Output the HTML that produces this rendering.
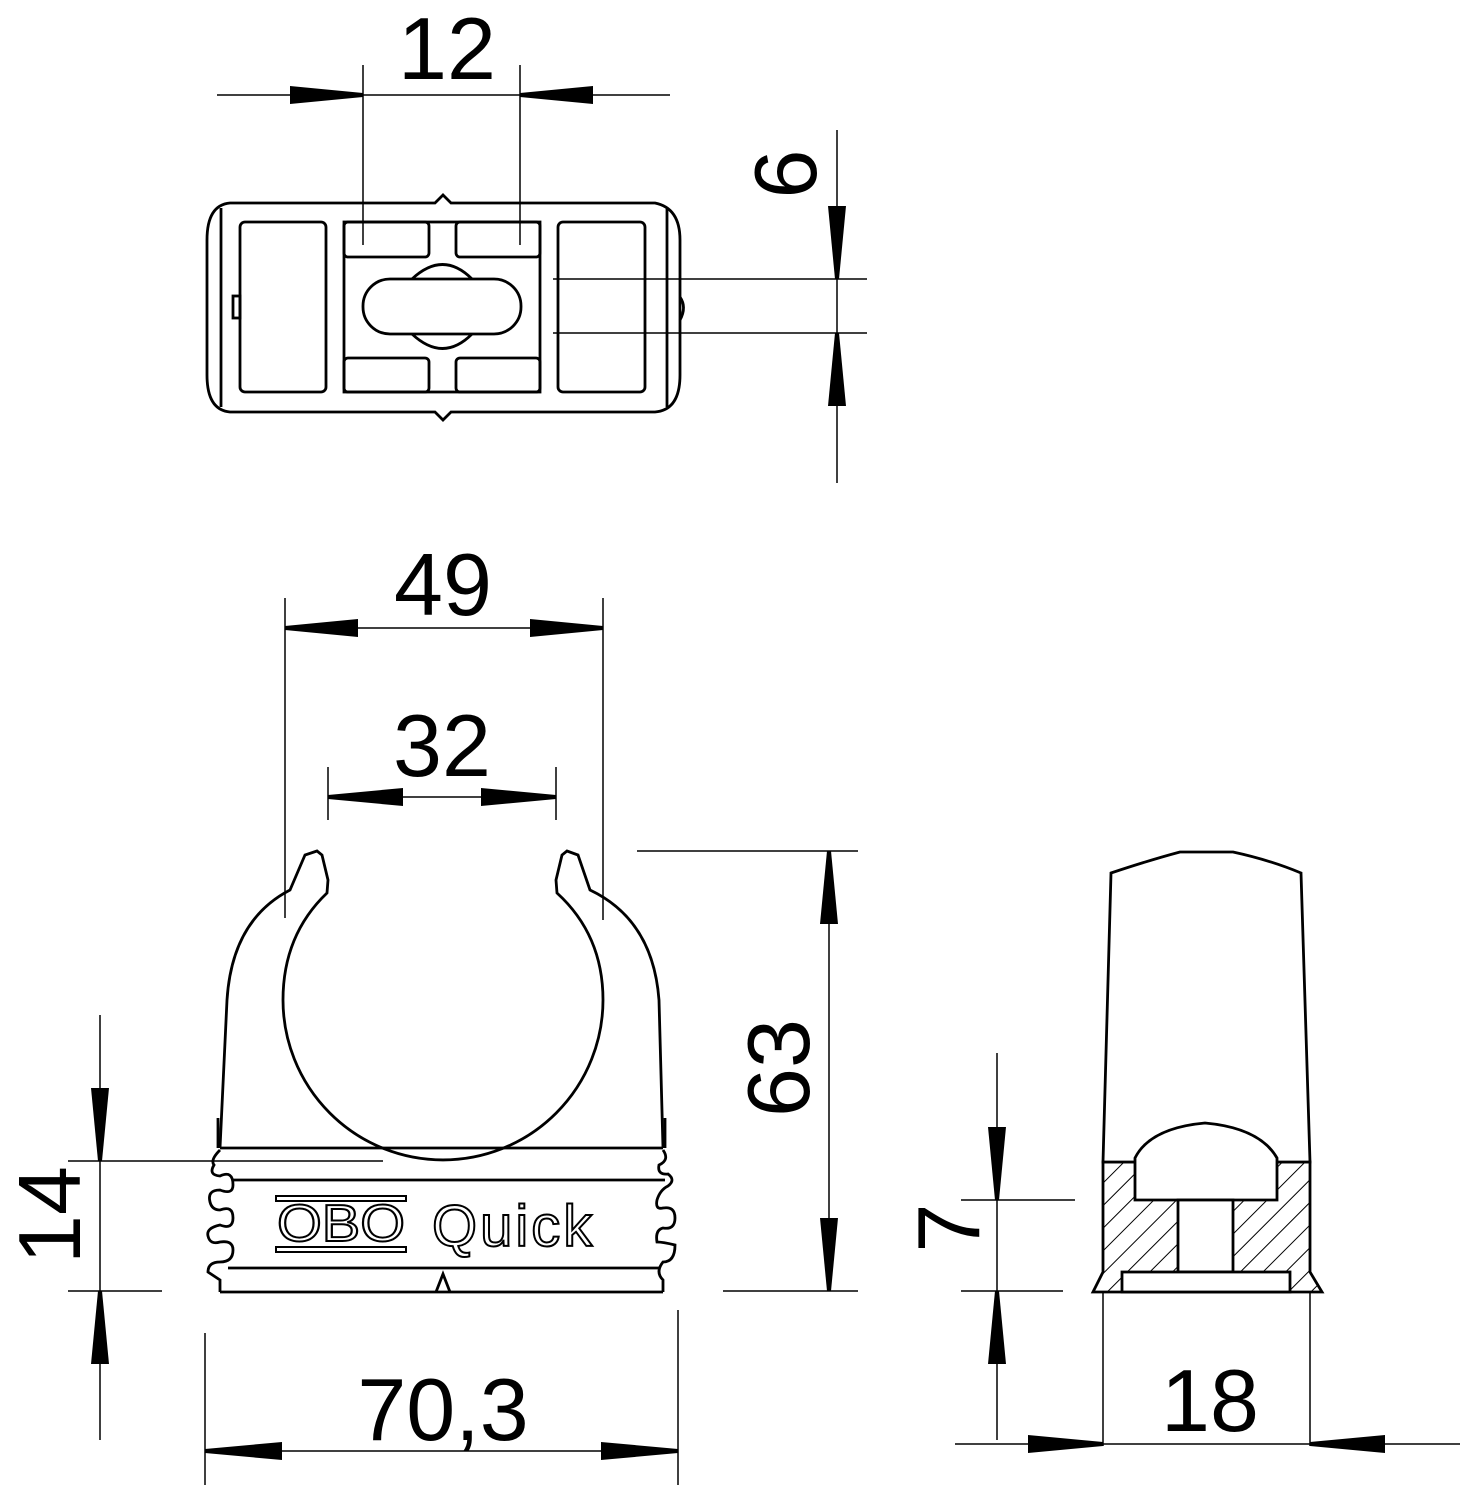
<!DOCTYPE html>
<html><head><meta charset="utf-8"><style>html,body{margin:0;padding:0;background:#fff}svg{display:block}</style></head>
<body>
<svg width="1460" height="1485" viewBox="0 0 1460 1485" xmlns="http://www.w3.org/2000/svg">
<defs>
<pattern id="h" width="16" height="16" patternUnits="userSpaceOnUse" patternTransform="rotate(45)">
<rect width="16" height="16" fill="#fff"/><line x1="0" y1="0" x2="0" y2="16" stroke="#000" stroke-width="2"/>
</pattern>
</defs>
<g fill="none" stroke="#000" stroke-width="1.5">
<line x1="217" y1="95" x2="670" y2="95"/>
<line x1="363" y1="65" x2="363" y2="245"/>
<line x1="520" y1="65" x2="520" y2="245"/>
<line x1="837" y1="130" x2="837" y2="483"/>
<line x1="553" y1="279" x2="867" y2="279"/>
<line x1="553" y1="333" x2="867" y2="333"/>
<line x1="285" y1="628" x2="603" y2="628"/>
<line x1="285" y1="598" x2="285" y2="918"/>
<line x1="603" y1="598" x2="603" y2="920"/>
<line x1="328" y1="797" x2="556" y2="797"/>
<line x1="328" y1="767" x2="328" y2="820"/>
<line x1="556" y1="767" x2="556" y2="820"/>
<line x1="829" y1="851" x2="829" y2="1291"/>
<line x1="637" y1="851" x2="858" y2="851"/>
<line x1="723" y1="1291" x2="858" y2="1291"/>
<line x1="100" y1="1015" x2="100" y2="1440"/>
<line x1="68" y1="1161" x2="383" y2="1161"/>
<line x1="68" y1="1291" x2="162" y2="1291"/>
<line x1="205" y1="1451" x2="678" y2="1451"/>
<line x1="205" y1="1333" x2="205" y2="1485"/>
<line x1="678" y1="1310" x2="678" y2="1485"/>
<line x1="997" y1="1053" x2="997" y2="1440"/>
<line x1="961" y1="1200" x2="1075" y2="1200"/>
<line x1="961" y1="1291" x2="1063" y2="1291"/>
<line x1="955" y1="1444" x2="1460" y2="1444"/>
<line x1="1103" y1="1235" x2="1103" y2="1446"/>
<line x1="1310" y1="1225" x2="1310" y2="1446"/>
</g>
<g fill="#000">
<polygon points="363,93 363,97 290,104 290,86"/>
<polygon points="520,93 520,97 593,104 593,86"/>
<polygon points="835,279 839,279 846,206 828,206"/>
<polygon points="835,333 839,333 846,406 828,406"/>
<polygon points="285,626 285,630 358,637 358,619"/>
<polygon points="603,626 603,630 530,637 530,619"/>
<polygon points="328,795 328,799 403,806 403,788"/>
<polygon points="556,795 556,799 481,806 481,788"/>
<polygon points="827,851 831,851 838,924 820,924"/>
<polygon points="827,1291 831,1291 838,1218 820,1218"/>
<polygon points="98,1161 102,1161 109,1088 91,1088"/>
<polygon points="98,1291 102,1291 109,1364 91,1364"/>
<polygon points="205,1449 205,1453 282,1460 282,1442"/>
<polygon points="678,1449 678,1453 601,1460 601,1442"/>
<polygon points="995,1200 999,1200 1006,1127 988,1127"/>
<polygon points="995,1291 999,1291 1006,1364 988,1364"/>
<polygon points="1103,1442 1103,1446 1028,1453 1028,1435"/>
<polygon points="1310,1442 1310,1446 1385,1453 1385,1435"/>
</g>
<g font-family="Liberation Sans, sans-serif" font-size="88" fill="#000" text-anchor="middle">
<text x="447" y="79">12</text>
<text x="443" y="615">49</text>
<text x="442" y="776">32</text>
<text x="443" y="1440">70,3</text>
<text x="1210" y="1431">18</text>
<text transform="translate(816,174) rotate(-90)">6</text>
<text transform="translate(809,1068) rotate(-90)">63</text>
<text transform="translate(80,1215) rotate(-90)">14</text>
<text transform="translate(979,1228) rotate(-90)">7</text>
</g>
<g fill="none" stroke="#000" stroke-width="2.8">
<path d="M230,203 L435,203 L443,195 L451,203 L655,203 Q680,208 680,240 L680,375 Q680,410 655,412 L451,412 L443,420 L435,412 L230,412 Q207,410 207,375 L207,240 Q207,205 230,203 Z"/>
<line x1="221" y1="208" x2="221" y2="407"/>
<line x1="667" y1="208" x2="667" y2="407"/>
<rect x="240" y="222" width="86" height="170" rx="5"/>
<rect x="558" y="222" width="87" height="170" rx="5"/>
<rect x="344" y="222" width="196" height="170"/>
<rect x="344" y="222" width="85" height="35" rx="4"/>
<rect x="456" y="222" width="84" height="35" rx="4"/>
<rect x="344" y="358" width="85" height="34" rx="4"/>
<rect x="456" y="358" width="84" height="34" rx="4"/>
<rect x="363" y="279" width="158" height="55" rx="27"/>
<path d="M412,279 Q443,250 472,279"/>
<path d="M412,334 Q443,363 472,334"/>
<rect x="233" y="296" width="7" height="22"/>
<path d="M680,297 Q687,307 680,320"/>
</g>
<g fill="none" stroke="#000" stroke-width="2.8">
<path d="M220,1148 L227,1000 Q232,920 290,890 L305,855 L317,851 L322,855 L328,880 L327,893 Q283,935 283,1000 A160,160 0 0 0 603,1000 Q603,935 557,893 L556,880 L562,855 L567,851 L578,855 L590,890 Q653,920 659,1000 L663,1148"/>
<line x1="220" y1="1148" x2="663" y2="1148"/>
<path d="M218,1118 L218,1148 M665,1118 L665,1148"/>
<line x1="233" y1="1180" x2="665" y2="1180"/>
<line x1="228" y1="1268" x2="660" y2="1268"/>
<path d="M220,1292 L663,1292"/>
<path d="M220,1150 Q210,1160 214,1165 Q208,1175 220,1176 Q233,1170 233,1185 Q233,1195 220,1190 Q207,1190 210,1202 Q212,1210 220,1210 Q233,1205 233,1218 Q233,1230 220,1225 Q206,1228 208,1236 Q210,1245 220,1242 Q233,1240 233,1250 Q233,1262 220,1262 Q208,1262 208,1272 L220,1280 L220,1292"/>
<path d="M663,1150 Q670,1160 659,1165 Q657,1175 668,1174 Q676,1180 668,1186 Q660,1190 657,1200 Q655,1210 663,1208 Q675,1206 675,1218 Q675,1230 663,1228 Q655,1230 657,1242 Q663,1242 675,1245 Q675,1262 663,1262 Q655,1272 663,1280 L663,1292"/>
<path d="M436,1292 L443,1274 L450,1292"/>
</g>
<g fill="none" stroke="#000" stroke-width="2">
<rect x="276" y="1196" width="130" height="5"/>
<rect x="276" y="1247" width="130" height="5"/>
</g>
<text x="341" y="1241" font-family="Liberation Sans, sans-serif" font-size="52" fill="#fff" stroke="#000" stroke-width="2" text-anchor="middle" textLength="128" lengthAdjust="spacingAndGlyphs">OBO</text>
<text x="432" y="1246" font-family="Liberation Sans, sans-serif" font-size="58" fill="#fff" stroke="#000" stroke-width="2" letter-spacing="3">Quick</text>
<g stroke="#000" stroke-width="2.8">
<path d="M1103,1162 L1310,1162 L1310,1272 L1322,1292 L1093,1292 L1103,1272 Z" fill="url(#h)"/>
<path d="M1111,873 Q1150,860 1180,852 L1233,852 Q1270,860 1301,873 L1310,1162 L1103,1162 Z" fill="#fff"/>
<path d="M1135,1200 L1135,1158 Q1150,1128 1205,1123 Q1260,1128 1277,1158 L1277,1200 Z" fill="#fff"/>
<rect x="1178" y="1200" width="55" height="72" fill="#fff"/>
<rect x="1122" y="1272" width="168" height="20" fill="#fff"/>
</g>
</svg>
</body></html>
